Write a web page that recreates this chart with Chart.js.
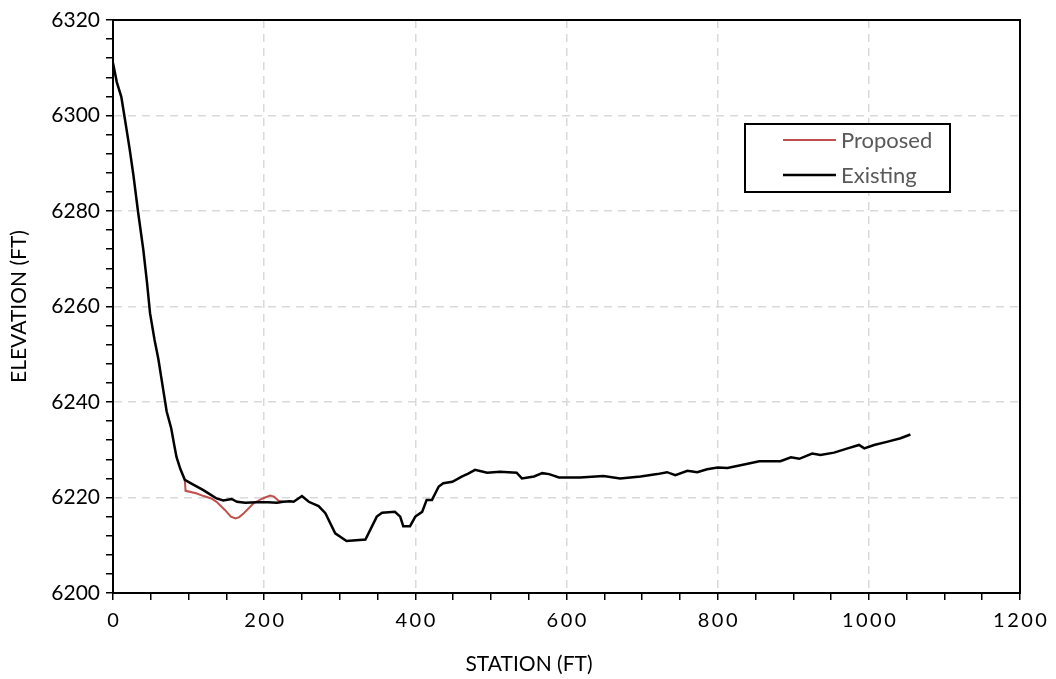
<!DOCTYPE html>
<html>
<head>
<meta charset="utf-8">
<script src="https://cdn.jsdelivr.net/npm/chart.js@4.4.0/dist/chart.umd.min.js"></script>
<style>
  html, body { margin: 0; padding: 0; background: #fff; }
  #wrap { width: 1056px; height: 679px; }
</style>
</head>
<body>
<div id="wrap"><canvas id="profile"></canvas></div>
<script>
// station (ft) / elevation (ft)
const existingStation = [0, 5, 11, 16, 22, 27, 33, 40, 45, 49, 55, 60, 66, 71, 77, 81, 84, 89, 95, 105,
    119, 130, 137, 146, 157, 164, 175, 190, 205, 217, 225, 234, 239, 250, 259, 272, 281, 294, 309, 334,
    349, 356, 373, 380, 384, 393, 400, 409, 415, 422, 431, 437, 449, 462, 470, 479, 495, 512, 534, 541,
    557, 568, 577, 590, 618, 649, 671, 698, 720, 733, 744, 760, 773, 786, 800, 813, 835, 855, 883, 897,
    908, 925, 936, 954, 972, 987, 994, 1007, 1025, 1042, 1055];
const existingElev = [6311, 6307, 6303.9, 6299, 6293, 6287.5, 6280, 6272, 6265, 6258.6, 6253, 6249, 6243, 6238, 6234.5, 6231, 6228.5, 6226, 6223.7, 6222.8,
    6221.6, 6220.5, 6219.8, 6219.4, 6219.7, 6219.1, 6218.9, 6219, 6219, 6218.9, 6219.1, 6219.2, 6219.1, 6220.3, 6219.1, 6218.2, 6216.7, 6212.5, 6210.9, 6211.2,
    6216, 6216.8, 6217, 6216, 6214, 6214, 6216, 6217, 6219.5, 6219.5, 6222.3, 6223, 6223.3, 6224.4, 6225, 6225.8, 6225.2, 6225.4, 6225.2, 6224,
    6224.4, 6225.1, 6224.9, 6224.2, 6224.2, 6224.5, 6224, 6224.4, 6224.9, 6225.3, 6224.7, 6225.6, 6225.3, 6225.9, 6226.3, 6226.2, 6226.9, 6227.6, 6227.6, 6228.4,
    6228.1, 6229.2, 6228.9, 6229.4, 6230.3, 6231, 6230.3, 6231, 6231.7, 6232.4, 6233.2];

const proposedStation = [95, 96, 110, 120, 130, 137, 148, 156, 162, 167, 173, 186, 198, 208, 213, 219, 225];
const proposedElev = [6223.7, 6221.4, 6220.9, 6220.3, 6219.8, 6219.1, 6217.4, 6216, 6215.6, 6215.9, 6216.7, 6218.8, 6219.8, 6220.4, 6220.2, 6219.3, 6219.1];

const seriesNames = ['Proposed', 'Existing'];
const seriesColors = ['#c0504d', '#000000'];
const xTitle = 'STATION (FT)';
const yTitle = 'ELEVATION (FT)';

function toPoints(xs, ys) {
    let pts = [];
    for (let i = 0; i < xs.length; i++)
        pts.push({x: xs[i], y: ys[i]});
    return pts;
}

const fontFam = 'Lato, "Liberation Sans", sans-serif';

// box round the plot, the legend inside it, and the x title (sits left of centre)
const frameAndLegend = {
    id: 'frameAndLegend',
    afterDraw(chart) {
        const ctx = chart.ctx;
        const a = chart.chartArea;
        ctx.save();
        ctx.strokeStyle = '#000';
        ctx.lineWidth = 2;
        ctx.strokeRect(a.left, a.top, a.right - a.left, a.bottom - a.top);

        ctx.fillStyle = '#000';
        ctx.font = '21px ' + fontFam;
        ctx.textAlign = 'center';
        ctx.textBaseline = 'middle';
        ctx.fillText(xTitle, 529, 664);

        ctx.lineWidth = 2;
        ctx.fillStyle = '#fff';
        ctx.fillRect(745, 124, 205, 68);
        ctx.strokeRect(745, 124, 205, 68);
        ctx.font = '22px ' + fontFam;
        ctx.textAlign = 'left';
        const rows = [140, 175];
        for (let i = 0; i < seriesNames.length; i++) {
            ctx.strokeStyle = seriesColors[i];
            ctx.lineWidth = i == 0 ? 2 : 2.5;
            ctx.beginPath();
            ctx.moveTo(783, rows[i]);
            ctx.lineTo(836, rows[i]);
            ctx.stroke();
            ctx.fillStyle = '#595959';
            ctx.fillText(seriesNames[i], 841, rows[i] + 1);
        }
        ctx.restore();
    }
};

const data = {
    datasets: [{
            label: seriesNames[1],
            data: toPoints(existingStation, existingElev),
            borderColor: seriesColors[1],
            borderWidth: 2.5,
            pointRadius: 0,
            showLine: true,
            tension: 0
        }, {
            label: seriesNames[0],
            data: toPoints(proposedStation, proposedElev),
            borderColor: seriesColors[0],
            borderWidth: 2,
            pointRadius: 0,
            showLine: true,
            tension: 0
        }]
};

const config = {
    type: 'scatter',
    data: data,
    options: {
        responsive: false,
        animation: false,
        layout: { padding: { top: 20, right: 36, left: 0, bottom: 0 } },
        plugins: { legend: { display: false }, tooltip: { enabled: false } },
        scales: {
            x: {
                type: 'linear',
                min: 0, max: 1200,
                afterFit(s) { s.height = 86; },
                ticks: {
                    stepSize: 50,
                    autoSkip: false,
                    maxRotation: 0,
                    color: '#000',
                    padding: 9,
                    font: { family: fontFam, size: 20 },
                    callback: v => (v % 200 == 0 ? String(v).split('').join('\u2009') : '')
                },
                grid: {
                    color: c => (c.tick && c.tick.value % 200 == 0 ? '#d9d9d9' : 'rgba(0,0,0,0)'),
                    lineWidth: 1.5,
                    tickColor: '#000',
                    tickLength: 7,
                    tickWidth: 1.5,
                    tickBorderDash: [1, 0]
                },
                border: { color: '#000', width: 2, dash: [8, 6] }
            },
            y: {
                min: 6200, max: 6320,
                afterFit(s) { s.width = 113; },
                ticks: {
                    stepSize: 4,
                    autoSkip: false,
                    color: '#000',
                    padding: 6,
                    font: { family: fontFam, size: 21 },
                    callback: v => (v % 20 == 0 ? v : '')
                },
                grid: {
                    color: c => (c.tick && c.tick.value % 20 == 0 ? '#d9d9d9' : 'rgba(0,0,0,0)'),
                    lineWidth: 1.5,
                    tickColor: '#000',
                    tickLength: 7,
                    tickWidth: 1.5,
                    tickBorderDash: [1, 0]
                },
                border: { color: '#000', width: 2, dash: [8, 6] },
                title: {
                    display: true,
                    text: yTitle,
                    color: '#000',
                    font: { family: fontFam, size: 21 },
                    padding: { top: 7, bottom: 4 }
                }
            }
        }
    },
    plugins: [frameAndLegend]
};

let canvas = document.getElementById('profile');
canvas.width = 1056;
canvas.height = 679;
new Chart(canvas.getContext('2d'), config);
</script>
</body>
</html>
